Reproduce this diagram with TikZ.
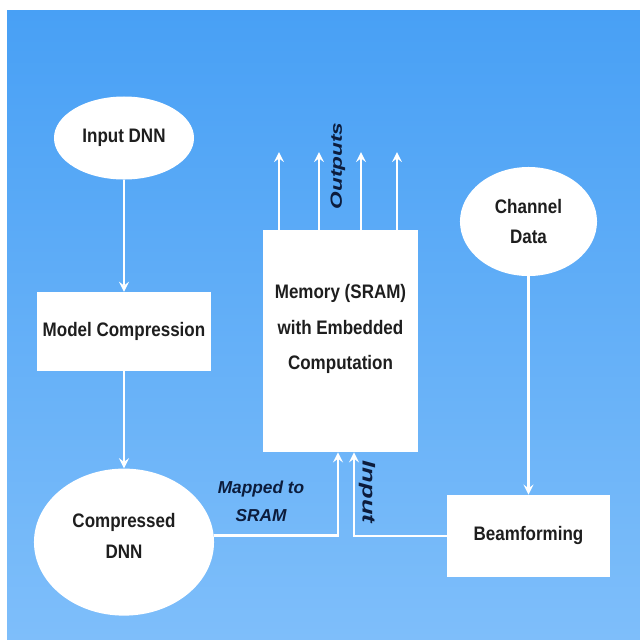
\documentclass[tikz,border=0pt]{standalone}
\usepackage{fontspec}
\setmainfont{Liberation Sans}[FakeStretch=0.87]
\newfontfamily\tagfont{Liberation Sans}
\newfontfamily\widefont{Liberation Sans}[FakeStretch=1.4]
\usetikzlibrary{shapes, arrows}
\definecolor{skytop}{RGB}{72,160,245}
\definecolor{skybot}{RGB}{126,190,250}
\definecolor{inktext}{RGB}{30,30,30}
\definecolor{inklabel}{RGB}{12,28,60}
\tikzstyle{block} = [rectangle, fill=white, text=inktext, align=center, inner sep=0pt,
	font=\fontsize{13.9}{22}\selectfont\bfseries]
\tikzstyle{cloud} = [ellipse, fill=white, text=inktext, align=center, inner sep=0pt,
	font=\fontsize{13.9}{22}\selectfont\bfseries]
\tikzstyle{flow} = [draw=white, line width=2.1pt, ->]
\tikzstyle{tag} = [text=inklabel, align=center, inner sep=0pt,
	font=\tagfont\fontsize{12.3}{20}\selectfont\bfseries\itshape]
\tikzstyle{vtag} = [text=inklabel, inner sep=0pt]

\begin{document}
\begin{tikzpicture}[x=0.025cm, y=0.025cm, >=stealth]
		\useasboundingbox (0,0) rectangle (640,-641);
		%Backdrop
		\fill [white] (0,0) rectangle (640,-641);
		\shade [top color=skytop, bottom color=skybot] (7,-10) rectangle (640,-639);

		%Place node
		\node [cloud, minimum width=3.5cm, minimum height=2.075cm] (indnn) at (124,-138) {Input DNN};
		\node [block, node distance=4.84cm, below of=indnn, minimum width=4.325cm, minimum height=1.975cm] (modcomp) {Model Compression};
		\node [cloud, node distance=5.26cm, below of=modcomp, minimum width=4.5cm, minimum height=3.675cm, text depth=9pt] (cdnn) {Compressed\\DNN};
		\node [block, font=\fontsize{13.9}{25}\selectfont\bfseries, minimum width=3.875cm, minimum height=5.55cm, text depth=20pt] (mem) at (340.5,-341) {Memory (SRAM)\\with Embedded\\Computation};
		\node [cloud, minimum width=3.425cm, minimum height=2.725cm] (chdata) at (528.5,-221.5) {Channel\\Data};
		\node [block, node distance=7.86cm, below of=chdata, minimum width=4.075cm, minimum height=2.05cm] (beam) {Beamforming};

		%Labels
		\node [vtag, rotate=90, font=\widefont\fontsize{11.5}{14}\selectfont\bfseries\itshape] (outlbl) at (338,-166) {Outputs};
		\node [tag] (maplbl) at (261,-501) {Mapped to\\SRAM};
		\node [vtag, rotate=-90, font=\widefont\fontsize{13}{15}\selectfont\bfseries\itshape] (inlbl) at (367,-492) {Input};

		%Draw edges
		\draw [flow] (indnn) -- (modcomp);
		\draw [flow] (modcomp) -- (cdnn);
		\draw [flow] (chdata) -- (beam);
		\draw [flow] (cdnn.4) -| ([xshift=-0.0625cm]mem.south);
		\draw [flow] (beam.west) -| ([xshift=0.3375cm]mem.south);

		\foreach \ox [count=\i] in {279,319,361,397} {
			\coordinate (out\i) at (\ox,-152);
			\draw [flow] (mem.north -| out\i) -- (out\i);
		}
	\end{tikzpicture}
\end{document}
